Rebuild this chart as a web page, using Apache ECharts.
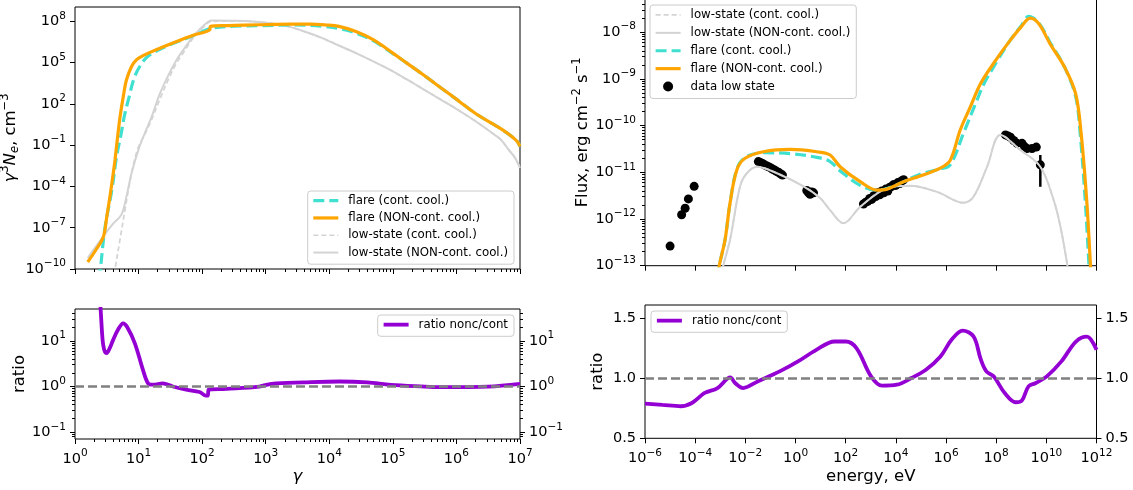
<!DOCTYPE html>
<html>
<head>
<meta charset="utf-8">
<title>flare vs low state: electrons, SED and ratios</title>
<script src="https://cdn.jsdelivr.net/npm/echarts@6.0.0/dist/echarts.min.js"></script>
<style>
  html, body { margin: 0; padding: 0; background: #fff; }
  #chart { width: 1133px; height: 490px; }
</style>
</head>
<body>
<div id="chart"></div>
<script>
// values, stored as [log10 x, log10 y]
// (bottom right ratio: [log10 energy, ratio])

// top left: gamma^3 N_e
var neFlareCont = [[0.38,-10.8],[0.40,-10.0],[0.47,-7.05],[0.58,-4.24],[0.655,-1.8],[0.72,-0.3],[0.78,1.2],[0.84,2.31],[0.94,4.0],[1.07,5.09],[1.18,5.58],[1.40,6.12],[1.60,6.5],[1.85,6.95],[2.07,7.40],[2.15,7.52],[2.5,7.66],[2.91,7.69],[3.40,7.74],[3.70,7.72],[3.95,7.62],[4.2,7.44],[4.42,7.15],[4.69,6.60],[5.0,5.66],[5.22,4.97],[5.50,4.05],[5.76,3.16],[6.03,2.24],[6.29,1.34],[6.55,0.60],[6.72,0.13],[6.88,-0.40],[6.96,-0.75],[7.0,-1.08]];
var neFlareNonc = [[0.20,-9.49],[0.33,-8.6],[0.445,-7.67],[0.50,-6.2],[0.55,-4.72],[0.60,-3.1],[0.63,-2.05],[0.665,-0.6],[0.71,1.10],[0.76,2.55],[0.81,3.76],[0.89,4.73],[0.97,5.22],[1.07,5.51],[1.18,5.75],[1.40,6.18],[1.60,6.55],[1.85,6.98],[2.12,7.40],[2.13,7.64],[2.40,7.70],[2.91,7.76],[3.40,7.80],[3.70,7.80],[3.95,7.74],[4.15,7.64],[4.42,7.27],[4.69,6.67],[5.0,5.70],[5.22,4.97],[5.50,4.05],[5.76,3.16],[6.03,2.24],[6.29,1.34],[6.55,0.60],[6.72,0.13],[6.88,-0.40],[6.96,-0.75],[7.0,-1.08]];
var neLowCont = [[0.60,-11.0],[0.63,-10.0],[0.71,-7.8],[0.79,-5.6],[0.85,-4.0],[0.92,-2.4],[1.0,-1.1],[1.10,-0.2],[1.20,0.8],[1.34,2.4],[1.47,3.8],[1.60,5.0],[1.73,5.9],[1.86,6.8],[2.0,7.5],[2.15,8.0],[2.55,8.03],[2.98,7.92],[3.35,7.64],[3.62,7.25],[3.89,6.79],[4.15,6.25],[4.42,5.7],[4.69,5.1],[4.95,4.49],[5.22,3.78],[5.49,3.04],[5.76,2.3],[6.02,1.58],[6.29,0.78],[6.56,-0.11],[6.70,-0.6],[6.82,-1.32],[6.92,-1.9],[7.0,-2.65]];
var neLowNonc = [[0.20,-9.2],[0.445,-7.63],[0.60,-6.7],[0.73,-6.05],[0.81,-4.72],[0.89,-3.02],[1.0,-1.3],[1.10,-0.1],[1.20,1.0],[1.34,2.8],[1.47,4.1],[1.60,5.22],[1.73,6.1],[1.86,6.91],[2.0,7.6],[2.15,8.07],[2.55,8.05],[2.98,7.93],[3.35,7.64],[3.62,7.25],[3.89,6.79],[4.15,6.25],[4.42,5.7],[4.69,5.1],[4.95,4.49],[5.22,3.78],[5.49,3.04],[5.76,2.3],[6.02,1.58],[6.29,0.78],[6.56,-0.11],[6.70,-0.6],[6.82,-1.32],[6.92,-1.9],[7.0,-2.65]];

// bottom left: ratio nonc/cont vs gamma
var ratioGamma = [[0.2,3.5],[0.35,2.6],[0.40,1.75],[0.434,1.02],[0.46,0.8],[0.497,0.73],[0.55,0.85],[0.60,1.02],[0.68,1.25],[0.757,1.38],[0.82,1.3],[0.94,0.95],[1.07,0.36],[1.15,0.07],[1.23,0.04],[1.38,0.07],[1.54,0.0],[1.75,-0.07],[1.96,-0.12],[2.06,-0.2],[2.09,-0.2],[2.10,-0.07],[2.38,-0.05],[2.9,0.0],[3.09,0.06],[3.6,0.09],[4.16,0.11],[4.6,0.09],[4.97,0.036],[5.5,0.0],[5.77,-0.015],[6.5,0.0],[7.0,0.06]];

// top right: SED, energy in eV, flux in erg cm^-2 s^-1
var sedLowCont = [[-3.1,-13.6],[-2.88,-13.0],[-2.61,-12.45],[-2.21,-11.30],[-1.94,-11.02],[-1.54,-10.88],[-0.74,-11.02],[0.32,-11.30],[0.98,-11.55],[1.38,-11.81],[1.91,-12.09],[2.58,-11.74],[3.65,-11.34],[4.57,-11.29],[5.64,-11.42],[6.70,-11.65],[7.10,-11.52],[7.64,-10.88],[8.17,-10.20],[8.96,-10.52],[9.76,-10.88],[10.29,-11.59],[10.56,-12.16],[10.84,-13.0],[10.95,-13.5]];
var sedLowNonc = [[-3.1,-13.6],[-2.88,-13.0],[-2.61,-12.45],[-2.21,-11.30],[-1.94,-11.02],[-1.54,-10.88],[-0.74,-11.02],[0.32,-11.30],[0.98,-11.55],[1.38,-11.81],[1.91,-12.09],[2.58,-11.74],[3.65,-11.34],[4.57,-11.29],[5.64,-11.42],[6.70,-11.65],[7.10,-11.52],[7.64,-10.88],[8.17,-10.20],[8.96,-10.52],[9.76,-10.88],[10.29,-11.59],[10.56,-12.16],[10.84,-13.0],[10.95,-13.5]];
var sedFlareCont = [[-3.2,-13.6],[-3.04,-13.0],[-2.81,-12.45],[-2.61,-11.66],[-2.34,-10.93],[-2.01,-10.68],[-1.28,-10.58],[-0.21,-10.60],[0.85,-10.68],[1.38,-10.77],[1.78,-10.97],[2.58,-11.28],[3.25,-11.38],[3.65,-11.35],[4.31,-11.20],[4.97,-11.04],[5.77,-10.93],[6.17,-10.84],[6.70,-10.16],[7.24,-9.45],[7.5,-9.12],[8.0,-8.65],[8.55,-8.18],[9.0,-7.86],[9.3,-7.66],[9.7,-7.80],[10.15,-8.22],[10.73,-8.75],[11.17,-9.38],[11.35,-10.18],[11.55,-11.6],[11.70,-13.0],[11.75,-13.5]];
var sedFlareNonc = [[-3.2,-13.6],[-3.04,-13.0],[-2.81,-12.45],[-2.61,-11.66],[-2.34,-10.95],[-2.01,-10.70],[-1.28,-10.56],[-0.21,-10.51],[0.85,-10.56],[1.38,-10.63],[1.78,-10.88],[2.58,-11.20],[3.25,-11.38],[3.65,-11.36],[4.31,-11.20],[4.97,-11.08],[5.77,-10.91],[6.17,-10.74],[6.57,-10.09],[6.97,-9.60],[7.38,-9.10],[7.97,-8.61],[8.55,-8.18],[8.99,-7.89],[9.36,-7.70],[9.7,-7.82],[10.15,-8.25],[10.73,-8.75],[11.17,-9.32],[11.39,-10.18],[11.61,-11.6],[11.76,-13.0],[11.8,-13.5]];
var sedData = [[-5.0,-12.58],[-4.54,-11.91],[-4.40,-11.77],[-4.27,-11.57],[-4.04,-11.30],
  [-1.48,-10.77],[-1.40,-10.79],[-1.32,-10.81],[-1.24,-10.84],[-1.16,-10.86],[-1.08,-10.88],[-1.0,-10.90],[-0.92,-10.93],[-0.84,-10.95],[-0.76,-10.98],[-0.68,-11.0],[-0.6,-11.03],[-0.52,-11.06],
  [0.45,-11.39],[0.52,-11.44],[0.58,-11.47],[0.65,-11.42],[0.72,-11.44],
  [2.71,-11.68],[2.80,-11.64],[2.88,-11.62],[2.96,-11.56],[3.04,-11.58],[3.12,-11.50],[3.2,-11.52],[3.28,-11.44],[3.36,-11.48],[3.44,-11.40],[3.52,-11.44],[3.6,-11.36],[3.68,-11.40],[3.76,-11.32],[3.84,-11.30],[3.92,-11.26],[4.0,-11.28],[4.08,-11.22],[4.16,-11.24],[4.24,-11.18],[4.31,-11.16],
  [8.37,-10.20],[8.47,-10.22],[8.57,-10.25],[8.70,-10.32],[8.83,-10.38],[9.03,-10.38],[9.13,-10.45],[9.23,-10.49],[9.43,-10.49],[9.60,-10.46],[9.76,-10.84]];
// [log10 E, log10 low, log10 high]
var sedErr = [[9.76,-11.31,-10.63]];

// bottom right: ratio nonc/cont vs energy
var ratioEnergy = [[-6,0.788],[-5.30,0.777],[-4.57,0.766],[-4.13,0.793],[-3.62,0.876],[-3.11,0.917],[-2.60,1.006],[-2.41,0.959],[-2.09,0.917],[-1.51,0.972],[-0.63,1.055],[0.10,1.138],[0.83,1.234],[1.56,1.303],[2.0,1.303],[2.43,1.248],[3.01,1.014],[3.45,0.937],[4.04,0.945],[4.62,1.0],[5.20,1.069],[5.78,1.179],[6.22,1.317],[6.66,1.394],[7.10,1.344],[7.39,1.152],[7.61,1.055],[7.90,1.014],[8.34,0.876],[8.78,0.799],[9.03,0.815],[9.29,0.931],[9.58,0.959],[10.02,1.014],[10.60,1.138],[11.18,1.303],[11.62,1.344],[12.0,1.234]];

var FONT = 'DejaVu Sans';
var BLACK = '#000';
var TEAL = '#40e0d0', ORANGE = '#ffa500', LGREY = '#d3d3d3', VIOLET = '#9400d3', GREY = '#808080';

function loglog(arr) {
  return arr.map(function (p) { return [Math.pow(10, p[0]), Math.pow(10, p[1])]; });
}
function logx(arr) {
  return arr.map(function (p) { return [Math.pow(10, p[0]), p[1]]; });
}

function pow10Label(v) {
  var e = Math.round(Math.log(v) / Math.LN10);
  return '10{s|' + (e < 0 ? '\u2212' + (-e) : e) + '}';
}
function decades(a, b, step) {
  var out = [];
  for (var e = a; e <= b; e += step) out.push(Math.pow(10, e));
  return out;
}
function minors(a, b, lo, hi) {
  var out = [];
  for (var e = a; e <= b; e++) {
    for (var k = 2; k <= 9; k++) {
      var v = k * Math.pow(10, e);
      if (v > lo && v < hi) out.push(v);
    }
  }
  return out;
}

var tickRich = { s: { fontSize: 10.5, fontFamily: FONT, color: BLACK, padding: [0, 0, 11, 0] } };
var nameRich = {
  i: { fontSize: 16.5, fontFamily: FONT, fontStyle: 'italic', color: BLACK },
  p: { fontSize: 11.5, fontFamily: FONT, color: BLACK, padding: [0, 0, 12, 0] },
  b: { fontSize: 11.5, fontFamily: FONT, fontStyle: 'italic', color: BLACK, padding: [9, 0, 0, 0] }
};

function axis(o) {
  var a = {
    type: o.type || 'log',
    logBase: 10,
    gridIndex: o.grid,
    position: o.pos,
    min: o.min,
    max: o.max,
    silent: true,
    axisLine: { show: false },
    splitLine: { show: false },
    axisTick: { show: true, customValues: o.ticks, length: o.len || 5, lineStyle: { color: BLACK, width: 1 } },
    axisLabel: { show: false }
  };
  if (o.labels) {
    a.axisLabel = {
      show: true, customValues: o.ticks, formatter: o.fmt || pow10Label, rich: tickRich,
      fontFamily: FONT, fontSize: 14.5, color: BLACK, margin: o.margin || 9
    };
  }
  if (o.name) {
    a.name = o.name;
    a.nameLocation = 'middle';
    a.nameGap = o.gap;
    a.nameTextStyle = { fontFamily: FONT, fontSize: 16.5, color: BLACK, rich: nameRich };
  }
  return a;
}

var G0 = { ymin: 1e-10, ymax: Math.pow(10, 9.05) };
var G1 = { ymin: Math.pow(10, -1.147), ymax: Math.pow(10, 1.695) };
var G2 = { ymin: 1e-13, ymax: Math.pow(10, -7.289) };

var xAxes = [
  axis({ grid: 0, pos: 'bottom', min: 1, max: 1e7, ticks: decades(0, 7, 1) }),
  axis({ grid: 0, pos: 'bottom', min: 1, max: 1e7, ticks: minors(0, 6, 1, 1e7), len: 3 }),
  axis({ grid: 1, pos: 'bottom', min: 1, max: 1e7, ticks: decades(0, 7, 1), labels: true, name: '{i|γ}', gap: 29 }),
  axis({ grid: 1, pos: 'bottom', min: 1, max: 1e7, ticks: minors(0, 6, 1, 1e7), len: 3 }),
  axis({ grid: 2, pos: 'bottom', min: 1e-6, max: 1e12, ticks: decades(-6, 12, 2) }),
  axis({ grid: 3, pos: 'bottom', min: 1e-6, max: 1e12, ticks: decades(-6, 12, 2), labels: true, name: 'energy, eV', gap: 30 })
];

var yAxes = [
  axis({ grid: 0, pos: 'left', min: G0.ymin, max: G0.ymax, ticks: decades(-10, 8, 3), labels: true,
    name: '{i|γ}{p|3}{i|N}{b|e}, cm{p|\u22123}', gap: 46 }),
  axis({ grid: 1, pos: 'left', min: G1.ymin, max: G1.ymax, ticks: decades(-1, 1, 1), labels: true, name: 'ratio', gap: 42 }),
  axis({ grid: 1, pos: 'left', min: G1.ymin, max: G1.ymax, ticks: minors(-2, 1, G1.ymin, G1.ymax), len: 3 }),
  axis({ grid: 1, pos: 'right', min: G1.ymin, max: G1.ymax, ticks: decades(-1, 1, 1), labels: true }),
  axis({ grid: 1, pos: 'right', min: G1.ymin, max: G1.ymax, ticks: minors(-2, 1, G1.ymin, G1.ymax), len: 3 }),
  axis({ grid: 2, pos: 'left', min: G2.ymin, max: G2.ymax, ticks: decades(-13, -8, 1), labels: true,
    name: 'Flux, erg cm{p|\u22122} s{p|\u22121}', gap: 46 }),
  axis({ grid: 2, pos: 'left', min: G2.ymin, max: G2.ymax, ticks: minors(-13, -8, G2.ymin, G2.ymax), len: 3 }),
  axis({ grid: 3, type: 'value', pos: 'left', min: 0.5, max: 1.606, ticks: [0.5, 1.0, 1.5], labels: true,
    fmt: function (v) { return v.toFixed(1); }, name: 'ratio', gap: 39 }),
  axis({ grid: 3, type: 'value', pos: 'right', min: 0.5, max: 1.606, ticks: [0.5, 1.0, 1.5], labels: true,
    fmt: function (v) { return v.toFixed(1); } })
];

function lineSeries(name, data, xi, yi, color, width, dash) {
  return {
    type: 'line', name: name, data: data, xAxisIndex: xi, yAxisIndex: yi,
    symbol: 'none', showSymbol: false, smooth: 0.35, silent: true,
    lineStyle: { color: color, width: width, type: dash || 'solid' },
    itemStyle: { color: color }
  };
}

var unityLine = {
  silent: true, symbol: 'none', label: { show: false },
  lineStyle: { color: GREY, width: 2.6, type: [9, 4] },
  data: [{ yAxis: 1 }]
};

var series = [
  lineSeries('low-state (NON-cont. cool.)', loglog(neLowNonc), 0, 0, LGREY, 2),
  lineSeries('low-state (cont. cool.)', loglog(neLowCont), 0, 0, LGREY, 1.7, [5, 3]),
  lineSeries('flare (cont. cool.)', loglog(neFlareCont), 0, 0, TEAL, 3.2, [11, 5]),
  lineSeries('flare (NON-cont. cool.)', loglog(neFlareNonc), 0, 0, ORANGE, 3.2),

  Object.assign(lineSeries('ratio nonc/cont', loglog(ratioGamma), 2, 1, VIOLET, 3.8), { markLine: unityLine }),

  lineSeries('low-state (cont. cool.)', loglog(sedLowCont), 4, 5, LGREY, 1.7, [5, 3]),
  lineSeries('low-state (NON-cont. cool.)', loglog(sedLowNonc), 4, 5, LGREY, 2),
  {
    type: 'scatter', name: 'data low state', data: loglog(sedData), xAxisIndex: 4, yAxisIndex: 5,
    symbol: 'circle', symbolSize: 9, silent: true, itemStyle: { color: BLACK, opacity: 1 }
  },
  {
    type: 'custom', name: 'errors', xAxisIndex: 4, yAxisIndex: 5, silent: true,
    data: sedErr.map(function (e) { return [Math.pow(10, e[0]), Math.pow(10, e[1]), Math.pow(10, e[2])]; }),
    encode: { x: 0, y: [1, 2] },
    renderItem: function (params, api) {
      var lo = api.coord([api.value(0), api.value(1)]);
      var hi = api.coord([api.value(0), api.value(2)]);
      return { type: 'line', shape: { x1: lo[0], y1: lo[1], x2: hi[0], y2: hi[1] }, style: { stroke: BLACK, lineWidth: 2.5 } };
    }
  },
  lineSeries('flare (cont. cool.)', loglog(sedFlareCont), 4, 5, TEAL, 3.2, [11, 5]),
  lineSeries('flare (NON-cont. cool.)', loglog(sedFlareNonc), 4, 5, ORANGE, 3.2),

  Object.assign(lineSeries('ratio nonc/cont', logx(ratioEnergy), 5, 7, VIOLET, 3.8), { markLine: unityLine })
];

// line-only legend samples: hide the symbol that echarts puts on a line icon
function legendItem(name, width) {
  return { name: name, lineStyle: { width: width }, itemStyle: { opacity: 0 } };
}
function legendBox(pos, items, lh) {
  return Object.assign({
    orient: 'vertical', selectedMode: false, data: items,
    itemWidth: 25, itemHeight: 10, itemGap: 0,
    padding: [1, 6, 3, 4],
    borderColor: '#cccccc', borderWidth: 1, borderRadius: 3,
    backgroundColor: 'rgba(255,255,255,0.8)',
    textStyle: { fontFamily: FONT, fontSize: 11.8, color: BLACK, lineHeight: lh, padding: [0, 0, 0, 5] }
  }, pos);
}

var option = {
  animation: false,
  backgroundColor: '#fff',
  grid: [
    { left: 75, top: 7, width: 445, height: 262 },
    { left: 75, top: 309, width: 445, height: 130 },
    { left: 645, top: -1, width: 451.5, height: 266.7 },
    { left: 645, top: 305, width: 451.5, height: 133.3 }
  ].map(function (g) {
    return Object.assign(g, { show: true, borderColor: BLACK, borderWidth: 1, backgroundColor: 'transparent', outerBoundsMode: 'none' });
  }),
  xAxis: xAxes,
  yAxis: yAxes,
  legend: [
    legendBox({ right: 619, top: 191 }, [
      legendItem('flare (cont. cool.)', 3.2), legendItem('flare (NON-cont. cool.)', 3.2),
      legendItem('low-state (cont. cool.)', 1.7), legendItem('low-state (NON-cont. cool.)', 2)
    ], 17.3),
    legendBox({ left: 650, top: 5 }, [
      legendItem('low-state (cont. cool.)', 1.7), legendItem('low-state (NON-cont. cool.)', 2),
      legendItem('flare (cont. cool.)', 3.2), legendItem('flare (NON-cont. cool.)', 3.2),
      { name: 'data low state', icon: 'circle', itemStyle: { color: BLACK, opacity: 1 } }
    ], 17.9),
    legendBox({ right: 619, top: 315 }, [legendItem('ratio nonc/cont', 3.8)], 17.3),
    legendBox({ left: 651, top: 311 }, [legendItem('ratio nonc/cont', 3.8)], 17.3)
  ],
  series: series
};

var chart = echarts.init(document.getElementById('chart'));
chart.setOption(option);
</script>
</body>
</html>
